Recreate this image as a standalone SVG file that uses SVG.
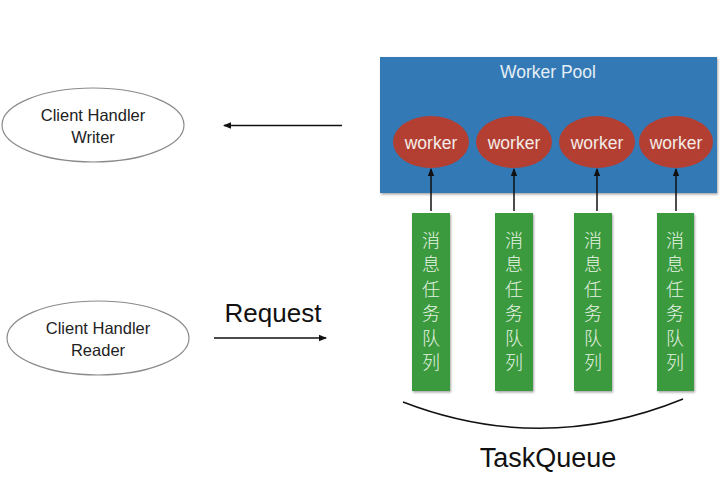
<svg xmlns="http://www.w3.org/2000/svg" width="725" height="485" viewBox="0 0 725 485">
<defs>
<marker id="ah" markerWidth="8" markerHeight="8" refX="7" refY="4" orient="auto" markerUnits="userSpaceOnUse">
<path d="M0,0.8 L8,4 L0,7.2 Z" fill="#111"/>
</marker>
<filter id="sh" x="-10%" y="-10%" width="130%" height="130%">
<feDropShadow dx="1" dy="1.5" stdDeviation="1.2" flood-color="#000" flood-opacity="0.35"/>
</filter>
<style>
text{font-family:"Liberation Sans","Noto Sans CJK SC",sans-serif;text-anchor:middle;}
.client{fill:#fff;stroke:#8a8a8a;stroke-width:1.2;}
.ct{font-size:16.5px;fill:#222;}
.worker{fill:#b33f32;}
.wt{font-size:17.5px;fill:#f4ece8;}
.queue{fill:#3b9a3e;filter:url(#sh);}
.qt{font-size:18px;fill:#e8f3e6;font-family:"Noto Sans CJK SC",sans-serif;font-weight:300;}
.conn{stroke:#111;stroke-width:1.5;fill:none;}
</style>
</defs>
<rect width="725" height="485" fill="#fff"/>

<g id="worker-pool">
<rect x="380" y="57" width="337" height="136" fill="#3079b5" filter="url(#sh)"/>
<text x="548" y="78" style="font-size:17.5px;fill:#e6eef6">Worker Pool</text>
</g>

<g id="worker1"><ellipse class="worker" cx="431" cy="142" rx="38" ry="26"/><text class="wt" x="431" y="149">worker</text></g>
<g id="worker2"><ellipse class="worker" cx="514" cy="142" rx="38" ry="26"/><text class="wt" x="514" y="149">worker</text></g>
<g id="worker3"><ellipse class="worker" cx="597" cy="142" rx="38" ry="26"/><text class="wt" x="597" y="149">worker</text></g>
<g id="worker4"><ellipse class="worker" cx="676" cy="142" rx="37" ry="26"/><text class="wt" x="676" y="149">worker</text></g>

<g id="queue1"><rect class="queue" x="412" y="213" width="38" height="178"/>
<text class="qt" x="431"><tspan x="431" y="246.5">消</tspan><tspan x="431" y="271">息</tspan><tspan x="431" y="295.5">任</tspan><tspan x="431" y="320">务</tspan><tspan x="431" y="344.5">队</tspan><tspan x="431" y="369">列</tspan></text></g>
<g id="queue2"><rect class="queue" x="495" y="213" width="38" height="178"/>
<text class="qt" x="514"><tspan x="514" y="246.5">消</tspan><tspan x="514" y="271">息</tspan><tspan x="514" y="295.5">任</tspan><tspan x="514" y="320">务</tspan><tspan x="514" y="344.5">队</tspan><tspan x="514" y="369">列</tspan></text></g>
<g id="queue3"><rect class="queue" x="574" y="213" width="38" height="178"/>
<text class="qt" x="593"><tspan x="593" y="246.5">消</tspan><tspan x="593" y="271">息</tspan><tspan x="593" y="295.5">任</tspan><tspan x="593" y="320">务</tspan><tspan x="593" y="344.5">队</tspan><tspan x="593" y="369">列</tspan></text></g>
<g id="queue4"><rect class="queue" x="657" y="213" width="37" height="178"/>
<text class="qt" x="675"><tspan x="675" y="246.5">消</tspan><tspan x="675" y="271">息</tspan><tspan x="675" y="295.5">任</tspan><tspan x="675" y="320">务</tspan><tspan x="675" y="344.5">队</tspan><tspan x="675" y="369">列</tspan></text></g>

<g id="writer"><ellipse class="client" cx="93" cy="125" rx="91" ry="37"/>
<text class="ct" x="93" y="121">Client Handler</text><text class="ct" x="93" y="143">Writer</text></g>
<g id="reader"><ellipse class="client" cx="98" cy="338" rx="91" ry="37"/>
<text class="ct" x="98" y="334">Client Handler</text><text class="ct" x="98" y="356">Reader</text></g>

<g id="connectors">
<line class="conn" x1="431" y1="211" x2="431" y2="169" marker-end="url(#ah)"/>
<line class="conn" x1="514" y1="211" x2="514" y2="169" marker-end="url(#ah)"/>
<line class="conn" x1="597" y1="211" x2="597" y2="169" marker-end="url(#ah)"/>
<line class="conn" x1="676" y1="211" x2="676" y2="169" marker-end="url(#ah)"/>
<line class="conn" x1="342" y1="125.5" x2="224" y2="125.5" marker-end="url(#ah)"/>
<line class="conn" x1="214" y1="338" x2="326" y2="338" marker-end="url(#ah)"/>
<path class="conn" d="M403,402 Q543,456 683,399"/>
</g>

<text x="273" y="322" style="font-size:26px;fill:#111">Request</text>
<text x="548" y="467" style="font-size:27px;fill:#111">TaskQueue</text>
</svg>
